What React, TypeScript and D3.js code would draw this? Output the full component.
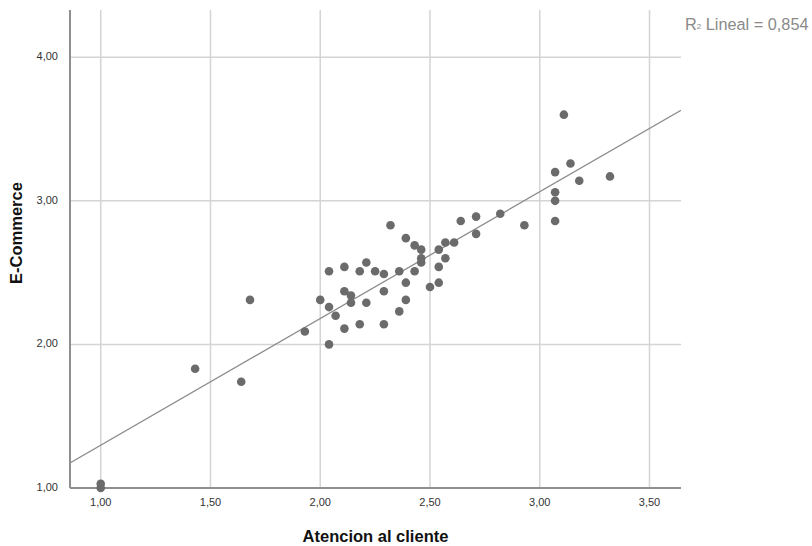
import * as d3 from 'd3'
import { useEffect, useRef } from 'react'

// Atencion al cliente (x) vs E-Commerce (y)
const atencion = [
  2.32, 2.39, 2.43, 2.46, 2.46, 2.46, 2.54, 2.57, 2.61, 2.64, 2.71, 2.71, 2.82, 2.57,
  2.54, 2.54, 2.50, 2.43, 2.39, 2.39, 2.36, 2.36, 2.29, 2.29, 2.29, 2.25, 2.21, 2.18,
  2.11, 2.04, 2.11, 2.14, 2.14, 2.21, 2.00, 2.04, 2.07, 2.11, 2.18, 1.93, 2.04,
  3.11, 3.14, 3.07, 3.18, 3.32, 3.07, 3.07, 3.07, 2.93,
  1.68, 1.43, 1.64, 1.00, 1.00,
]
const ecommerce = [
  2.83, 2.74, 2.69, 2.66, 2.60, 2.57, 2.66, 2.71, 2.71, 2.86, 2.89, 2.77, 2.91, 2.60,
  2.54, 2.43, 2.40, 2.51, 2.43, 2.31, 2.51, 2.23, 2.49, 2.37, 2.14, 2.51, 2.57, 2.51,
  2.54, 2.51, 2.37, 2.34, 2.29, 2.29, 2.31, 2.26, 2.20, 2.11, 2.14, 2.09, 2.00,
  3.60, 3.26, 3.20, 3.14, 3.17, 3.06, 3.00, 2.86, 2.83,
  2.31, 1.83, 1.74, 1.00, 1.03,
]

// fitted line shown in the chart
const fitIntercept = 0.415
const fitSlope = 0.8827
const rSquared = '0,854'

const xTicks = [1.0, 1.5, 2.0, 2.5, 3.0, 3.5]
const yTicks = [1.0, 2.0, 3.0, 4.0]
const xLabel = 'Atencion al cliente'
const yLabel = 'E-Commerce'

export default function App() {
  const svgRef = useRef(null)
  const width = 812, height = 546
  const left = 70, right = 681, top = 10, bottom = 488

  useEffect(() => {
    const svg = d3.select(svgRef.current)
    svg.selectAll('*').remove()

    const x = d3.scaleLinear().domain([0.86, 3.6435]).range([left, right])
    const y = d3.scaleLinear().domain([1.0, 4.329]).range([bottom, top])
    const fmt = (v) => d3.format('.2f')(v).replace('.', ',')

    svg.append('defs').append('clipPath').attr('id', 'plot')
      .append('rect').attr('x', left).attr('y', top)
      .attr('width', right - left).attr('height', bottom - top)

    // grid
    svg.append('g').selectAll('line').data(xTicks).join('line')
      .attr('x1', d => x(d)).attr('x2', d => x(d))
      .attr('y1', top).attr('y2', bottom)
      .attr('stroke', '#d4d4d4').attr('stroke-width', 1.5)
    svg.append('g').selectAll('line').data(yTicks).join('line')
      .attr('x1', left).attr('x2', right)
      .attr('y1', d => y(d)).attr('y2', d => y(d))
      .attr('stroke', '#d4d4d4').attr('stroke-width', 1.5)

    // fit line
    const [x0, x1] = x.domain()
    svg.append('line')
      .attr('clip-path', 'url(#plot)')
      .attr('x1', x(x0)).attr('y1', y(fitIntercept + fitSlope * x0))
      .attr('x2', x(x1)).attr('y2', y(fitIntercept + fitSlope * x1))
      .attr('stroke', '#8c8c8c').attr('stroke-width', 1.3)

    // axes
    svg.append('line').attr('x1', left).attr('x2', left).attr('y1', top).attr('y2', bottom)
      .attr('stroke', '#8f8f8f').attr('stroke-width', 2)
    svg.append('line').attr('x1', left).attr('x2', right).attr('y1', bottom).attr('y2', bottom)
      .attr('stroke', '#8f8f8f').attr('stroke-width', 2)

    // points
    svg.append('g').selectAll('circle').data(atencion).join('circle')
      .attr('cx', d => x(d))
      .attr('cy', (d, i) => y(ecommerce[i]))
      .attr('r', 4.3)
      .attr('fill', '#6b6b6b')

    // tick labels
    svg.append('g').selectAll('text').data(xTicks).join('text')
      .attr('x', d => x(d)).attr('y', 503)
      .attr('text-anchor', 'middle').attr('dominant-baseline', 'middle')
      .attr('fill', '#333').style('font', '11px "Liberation Sans", Arial, sans-serif')
      .text(d => fmt(d))
    svg.append('g').selectAll('text').data(yTicks).join('text')
      .attr('x', 58).attr('y', d => y(d))
      .attr('text-anchor', 'end').attr('dominant-baseline', 'middle')
      .attr('fill', '#333').style('font', '11px "Liberation Sans", Arial, sans-serif')
      .text(d => fmt(d))

    // axis titles
    svg.append('text')
      .attr('x', (left + right) / 2).attr('y', 538)
      .attr('text-anchor', 'middle').attr('dominant-baseline', 'middle')
      .attr('fill', '#111').style('font', 'bold 16.5px "Liberation Sans", Arial, sans-serif')
      .text(xLabel)
    svg.append('text')
      .attr('transform', 'translate(18, 233) rotate(-90)')
      .attr('text-anchor', 'middle').attr('dominant-baseline', 'middle')
      .attr('fill', '#111').style('font', 'bold 16.5px "Liberation Sans", Arial, sans-serif')
      .text(yLabel)

    // R² annotation
    const r2 = svg.append('text')
      .attr('x', 685).attr('y', 26)
      .attr('dominant-baseline', 'middle')
      .attr('fill', '#8a8a8a').style('font', '16.3px "Liberation Sans", Arial, sans-serif')
    r2.append('tspan').text('R')
    r2.append('tspan').attr('font-size', '8px').attr('dy', 1).text('2')
    r2.append('tspan').attr('dy', -1).text(` Lineal = ${rSquared}`)
  }, [])

  return (
    <svg ref={svgRef} width={width} height={height}
      style={{ position: 'absolute', left: 0, top: 0, background: '#fff' }} />
  )
}
